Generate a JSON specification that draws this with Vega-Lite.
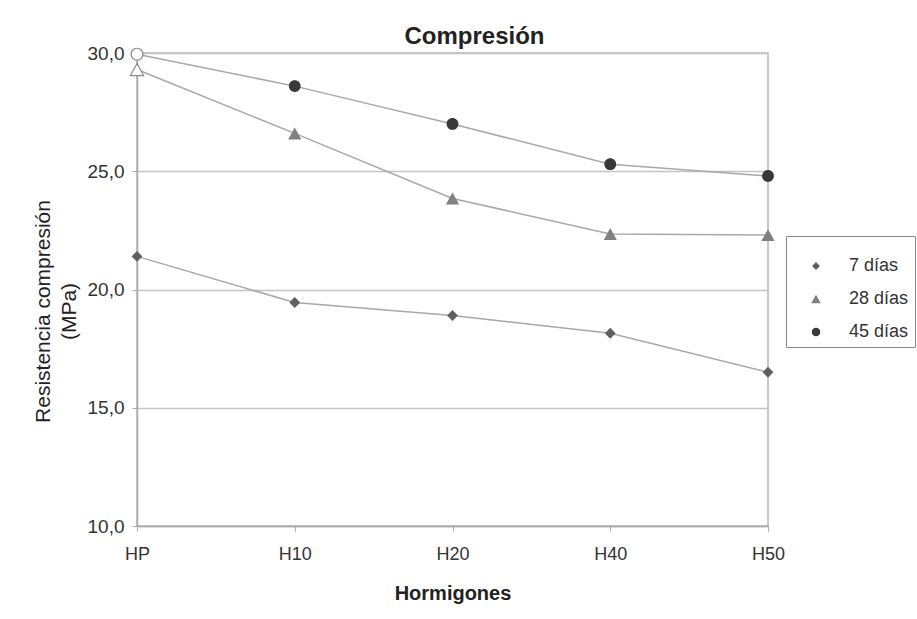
{
  "$schema": "https://vega.github.io/schema/vega-lite/v6.json",
  "autosize": {"type": "none"},
  "padding": {"left": 137, "top": 53, "right": 149, "bottom": 93},
  "width": 631,
  "height": 473,
  "background": "white",
  "config": {
    "font": "Liberation Sans",
    "view": {"stroke": "#b8b8b8", "strokeWidth": 1.5}
  },
  "title": {
    "text": "Compresión",
    "fontSize": 24,
    "fontWeight": "bold",
    "color": "#222",
    "frame": "group",
    "anchor": "middle",
    "dx": 22,
    "dy": 37,
    "baseline": "bottom",
    "offset": 8
  },
  "data": {
    "values": [
      {"serie": "7 días", "h": "HP", "v": 21.4},
      {"serie": "7 días", "h": "H10", "v": 19.45},
      {"serie": "7 días", "h": "H20", "v": 18.9},
      {"serie": "7 días", "h": "H40", "v": 18.15},
      {"serie": "7 días", "h": "H50", "v": 16.5},
      {"serie": "28 días", "h": "HP", "v": 29.3},
      {"serie": "28 días", "h": "H10", "v": 26.6},
      {"serie": "28 días", "h": "H20", "v": 23.85},
      {"serie": "28 días", "h": "H40", "v": 22.35},
      {"serie": "28 días", "h": "H50", "v": 22.3},
      {"serie": "45 días", "h": "HP", "v": 29.95},
      {"serie": "45 días", "h": "H10", "v": 28.6},
      {"serie": "45 días", "h": "H20", "v": 27.0},
      {"serie": "45 días", "h": "H40", "v": 25.3},
      {"serie": "45 días", "h": "H50", "v": 24.8}
    ]
  },
  "encoding": {
    "x": {
      "field": "h",
      "type": "nominal",
      "sort": ["HP", "H10", "H20", "H40", "H50"],
      "scale": {"type": "point", "padding": 0},
      "axis": {
        "title": "Hormigones",
        "titleFontSize": 20,
        "titleFontWeight": "bold",
        "titleColor": "#222",
        "titlePadding": 20,
        "labelAngle": 0,
        "labelFontSize": 18,
        "labelColor": "#333",
        "labelPadding": 14,
        "tickSize": 5,
        "tickColor": "#aaa",
        "domainColor": "#aaa",
        "domainWidth": 1.5,
        "grid": false
      }
    },
    "y": {
      "field": "v",
      "type": "quantitative",
      "scale": {"domain": [10, 30], "nice": false, "zero": false},
      "axis": {
        "values": [10, 15, 20, 25, 30],
        "labelExpr": "replace(format(datum.value, '.1f'), '.', ',')",
        "title": ["Resistencia compresión", "(MPa)"],
        "titleFontSize": 21,
        "titleFontWeight": "normal",
        "titleColor": "#222",
        "titleLineHeight": 26,
        "titleAngle": -90,
        "titleAlign": "center",
        "titleBaseline": "middle",
        "titleX": -94,
        "titleY": 258,
        "labelFontSize": 19,
        "labelColor": "#333",
        "labelPadding": 8,
        "tickSize": 5,
        "tickColor": "#aaa",
        "domainColor": "#aaa",
        "domainWidth": 1.5,
        "grid": true,
        "gridColor": "#c4c4c4",
        "gridWidth": 1.5
      }
    }
  },
  "layer": [
    {
      "mark": {"type": "line", "color": "#a8a8a8", "strokeWidth": 1.5},
      "encoding": {"detail": {"field": "serie"}}
    },
    {
      "transform": [{"filter": "!(datum.h === 'HP' && datum.serie !== '7 días')"}],
      "mark": {"type": "point", "filled": false, "opacity": 1, "size": 4000, "stroke": "#a0a0a0", "strokeWidth": 1.3},
      "encoding": {
        "strokeOpacity": {"value": 0},
        "shape": {
          "field": "serie",
          "type": "nominal",
          "scale": {
            "domain": ["7 días", "28 días", "45 días"],
            "range": [
              "M-1,0H1M0,-0.171L0.171,0L0,0.171L-0.171,0Z",
              "M-1,0H1M0,-0.19L0.209,0.19L-0.209,0.19Z",
              "M-1,0H1M-0.187,0A0.187,0.187 0 1,0 0.187,0A0.187,0.187 0 1,0 -0.187,0Z"
            ]
          },
          "legend": {
            "title": null,
            "orient": "none",
            "legendX": 649,
            "legendY": 183,
            "padding": 6,
            "strokeColor": "#888",
            "fillColor": "white",
            "labelFontSize": 18,
            "labelColor": "#333",
            "labelOffset": 9,
            "rowPadding": -7,
            "symbolSize": 2116,
            "symbolStrokeColor": "#a0a0a0",
            "symbolStrokeWidth": 1.3
          }
        },
        "fill": {
          "field": "serie",
          "type": "nominal",
          "scale": {"domain": ["7 días", "28 días", "45 días"], "range": ["#606060", "#808080", "#383838"]},
          "legend": {
            "title": null,
            "orient": "none",
            "legendX": 649,
            "legendY": 183,
            "padding": 6,
            "strokeColor": "#888",
            "fillColor": "white",
            "labelFontSize": 18,
            "labelColor": "#333",
            "labelOffset": 9,
            "rowPadding": -7,
            "symbolSize": 2116,
            "symbolStrokeColor": "#a0a0a0",
            "symbolStrokeWidth": 1.3
          }
        }
      }
    },
    {
      "transform": [{"filter": "datum.h === 'HP' && datum.serie !== '7 días'"}],
      "mark": {"type": "point", "filled": true, "opacity": 1, "size": 4000, "fill": "white", "stroke": "#8a8a8a", "strokeWidth": 1.2},
      "encoding": {
        "shape": {
          "condition": {"test": "datum.serie === '28 días'", "value": "M0,-0.19L0.209,0.19L-0.209,0.19Z"},
          "value": "M-0.187,0A0.187,0.187 0 1,0 0.187,0A0.187,0.187 0 1,0 -0.187,0Z"
        }
      }
    }
  ]
}
